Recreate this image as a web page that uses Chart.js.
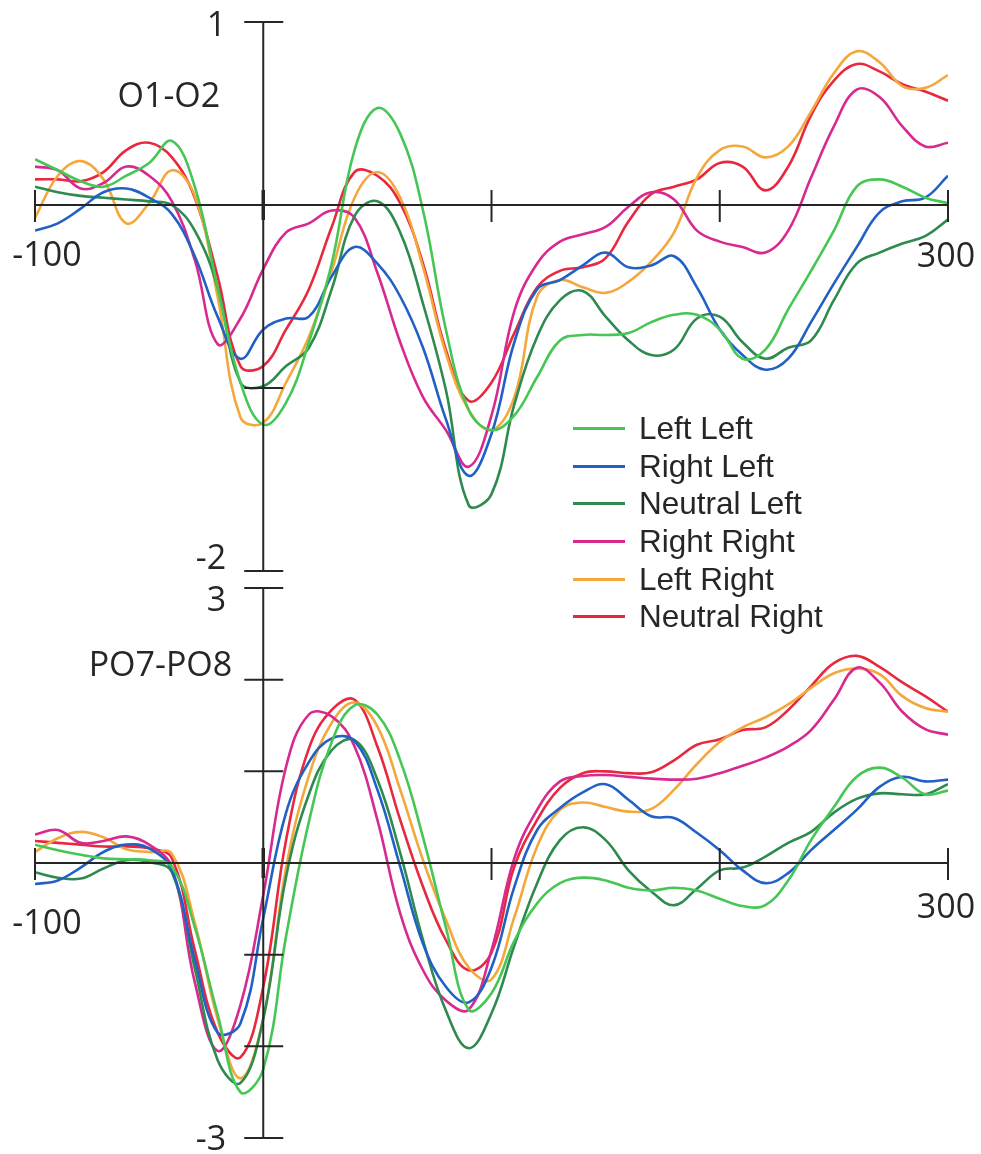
<!DOCTYPE html>
<html>
<head>
<meta charset="utf-8">
<title>O1-O2 / PO7-PO8</title>
<script src="https://cdn.jsdelivr.net/npm/chart.js@4.4.0/dist/chart.umd.min.js"></script>
<style>
  html, body { margin: 0; padding: 0; background: #fff; }
  #wrap { position: relative; width: 981px; height: 1154px; overflow: hidden; }
  #wrap canvas { position: absolute; left: 0; top: 0; }
  #legend {
    position: absolute; left: 573px; top: 410px;
    font-family: "Liberation Sans", Arial, sans-serif; font-size: 31.5px; color: #262626;
  }
  .row { height: 37.6px; display: flex; align-items: center; white-space: nowrap; }
  .swatch { width: 52px; height: 3px; margin-right: 14px; }
</style>
</head>
<body>
<div id="wrap">
  <canvas id="topChart" width="981" height="1154"></canvas>
  <canvas id="bottomChart" width="981" height="1154"></canvas>
  <div id="legend"></div>
</div>
<script>
// time in ms, every 10 ms
const times = [-100, -90, -80, -70, -60, -50, -40, -30, -20, -10,
  0, 10, 20, 30, 40, 50, 60, 70, 80, 90,
  100, 110, 120, 130, 140, 150, 160, 170, 180, 190,
  200, 210, 220, 230, 240, 250, 260, 270, 280, 290, 300];

const seriesNames = ['Left Left', 'Right Left', 'Neutral Left', 'Right Right', 'Left Right', 'Neutral Right'];
const seriesColors = ['#45c655', '#2160c4', '#2f8a4f', '#d8298f', '#f4a83c', '#e8283f'];

// O1-O2
const o1LeftLeft = [0.25, 0.19, 0.13, 0.10, 0.16, 0.23, 0.35, 0.10, -0.45, -0.97,
  -1.20, -1.08, -0.75, -0.32, 0.30, 0.53, 0.39, -0.03, -0.68, -1.12,
  -1.23, -1.15, -0.94, -0.74, -0.71, -0.71, -0.70, -0.64, -0.60, -0.60,
  -0.68, -0.84, -0.79, -0.57, -0.36, -0.14, 0.10, 0.14, 0.10, 0.04, 0.01];
const o1RightLeft = [-0.14, -0.10, -0.02, 0.07, 0.09, 0.04, -0.05, -0.28, -0.61, -0.84,
  -0.68, -0.62, -0.61, -0.39, -0.23, -0.32, -0.50, -0.78, -1.17, -1.48,
  -1.25, -0.75, -0.46, -0.41, -0.33, -0.26, -0.34, -0.33, -0.28, -0.45,
  -0.68, -0.82, -0.90, -0.84, -0.64, -0.43, -0.23, -0.04, 0.02, 0.04, 0.16];
const o1NeutralLeft = [0.10, 0.07, 0.05, 0.04, 0.03, 0.02, 0.00, -0.14, -0.45, -0.97,
  -0.99, -0.88, -0.78, -0.46, -0.06, 0.02, -0.15, -0.54, -1.01, -1.64,
  -1.58, -1.09, -0.72, -0.52, -0.47, -0.61, -0.74, -0.82, -0.79, -0.62,
  -0.61, -0.75, -0.84, -0.78, -0.74, -0.52, -0.32, -0.26, -0.21, -0.17, -0.08];
const o1RightRight = [0.21, 0.19, 0.09, 0.12, 0.21, 0.16, 0.02, -0.30, -0.76, -0.62,
  -0.35, -0.15, -0.10, -0.03, -0.07, -0.37, -0.75, -1.05, -1.23, -1.43,
  -1.15, -0.58, -0.32, -0.20, -0.16, -0.12, -0.01, 0.07, 0.03, -0.14,
  -0.20, -0.23, -0.26, -0.14, 0.15, 0.43, 0.63, 0.59, 0.43, 0.32, 0.34];
const o1LeftRight = [-0.07, 0.16, 0.24, 0.14, -0.10, 0.01, 0.19, 0.05, -0.50, -1.16,
  -1.19, -0.97, -0.72, -0.36, 0.04, 0.18, 0.04, -0.34, -0.81, -1.12,
  -1.23, -1.05, -0.50, -0.41, -0.45, -0.48, -0.42, -0.31, -0.15, 0.15,
  0.30, 0.32, 0.26, 0.32, 0.51, 0.72, 0.84, 0.78, 0.65, 0.64, 0.71];
const o1NeutralRight = [0.14, 0.14, 0.13, 0.18, 0.30, 0.34, 0.26, 0.04, -0.39, -0.88,
  -0.88, -0.68, -0.46, -0.12, 0.18, 0.16, 0.01, -0.32, -0.79, -1.07,
  -0.97, -0.70, -0.45, -0.36, -0.34, -0.29, -0.09, 0.06, 0.10, 0.14,
  0.23, 0.21, 0.08, 0.21, 0.49, 0.68, 0.77, 0.73, 0.66, 0.62, 0.57];

// PO7-PO8
const po7LeftLeft = [0.20, 0.14, 0.09, 0.05, 0.04, 0.03, -0.04, -0.70, -1.65, -2.50,
  -2.25, -0.80, 0.45, 1.32, 1.72, 1.62, 1.12, 0.28, -0.70, -1.60,
  -1.42, -0.85, -0.44, -0.22, -0.16, -0.19, -0.27, -0.30, -0.27, -0.30,
  -0.39, -0.47, -0.46, -0.19, 0.25, 0.61, 0.94, 1.04, 0.93, 0.75, 0.79];
const po7RightLeft = [-0.23, -0.19, -0.05, 0.12, 0.20, 0.16, -0.08, -1.05, -1.85, -1.75,
  -0.60, 0.55, 1.10, 1.36, 1.33, 0.80, -0.04, -0.88, -1.35, -1.52,
  -1.14, -0.26, 0.36, 0.60, 0.77, 0.86, 0.69, 0.51, 0.49, 0.33,
  0.14, -0.08, -0.22, -0.11, 0.14, 0.36, 0.58, 0.83, 0.94, 0.89, 0.91];
const po7NeutralLeft = [-0.10, -0.16, -0.17, -0.06, 0.03, 0.01, -0.10, -1.15, -2.15, -2.40,
  -1.70, -0.15, 0.75, 1.23, 1.34, 0.91, 0.11, -0.84, -1.61, -2.02,
  -1.64, -0.90, -0.22, 0.25, 0.39, 0.25, -0.08, -0.31, -0.46, -0.28,
  -0.08, -0.05, 0.07, 0.22, 0.34, 0.55, 0.70, 0.76, 0.75, 0.75, 0.86];
const po7RightRight = [0.31, 0.36, 0.22, 0.24, 0.29, 0.20, -0.05, -1.30, -2.05, -1.55,
  -0.35, 1.05, 1.62, 1.60, 1.27, 0.47, -0.55, -1.17, -1.50, -1.60,
  -0.95, 0.05, 0.58, 0.89, 0.95, 0.96, 0.94, 0.92, 0.91, 0.92,
  0.98, 1.06, 1.15, 1.27, 1.45, 1.78, 2.13, 1.97, 1.65, 1.46, 1.40];
const po7LeftRight = [0.12, 0.27, 0.34, 0.28, 0.15, 0.12, 0.10, -0.65, -1.70, -2.35,
  -1.70, -0.05, 0.95, 1.53, 1.75, 1.49, 0.80, 0.03, -0.62, -1.14,
  -1.27, -0.59, 0.18, 0.58, 0.66, 0.61, 0.56, 0.59, 0.80, 1.08,
  1.32, 1.48, 1.59, 1.73, 1.91, 2.07, 2.12, 2.06, 1.82, 1.69, 1.65];
const po7NeutralRight = [0.24, 0.22, 0.20, 0.18, 0.18, 0.16, 0.05, -0.95, -1.85, -2.12,
  -1.35, 0.25, 1.25, 1.67, 1.78, 1.27, 0.47, -0.26, -0.84, -1.17,
  -0.98, -0.04, 0.47, 0.82, 0.98, 1.00, 0.98, 0.99, 1.12, 1.29,
  1.35, 1.45, 1.48, 1.67, 1.93, 2.18, 2.26, 2.14, 1.97, 1.82, 1.65];

// axis ticks and labels
const xTickValues = [-100, 0, 100, 200, 300];
const xLabelValues = [-100, 300];
const o1YTicks = [1, 0, -1, -2];
const o1YLabels = [1, -2];
const po7YTicks = [3, 2, 1, 0, -1, -2, -3];
const po7YLabels = [3, -3];

const INK = '#262626';

// draws the crossing axes through zero, with ticks through both sides
const crossAxes = {
  id: 'crossAxes',
  afterDatasetsDraw(chart, args, o) {
    const ctx = chart.ctx;
    const xs = chart.scales.x, ys = chart.scales.y;
    const x0 = xs.getPixelForValue(0);
    const y0 = ys.getPixelForValue(0);
    ctx.save();
    ctx.strokeStyle = INK;
    ctx.lineWidth = 2;
    ctx.beginPath();
    ctx.moveTo(xs.getPixelForValue(xs.min), y0);
    ctx.lineTo(xs.getPixelForValue(xs.max), y0);
    ctx.moveTo(x0, ys.getPixelForValue(ys.max));
    ctx.lineTo(x0, ys.getPixelForValue(ys.min));
    xTickValues.forEach(t => {
      const px = xs.getPixelForValue(t);
      ctx.moveTo(px, y0 - 15);
      ctx.lineTo(px, y0 + 17);
    });
    o.yTicks.forEach(v => {
      const py = ys.getPixelForValue(v);
      ctx.moveTo(x0 - 19, py);
      ctx.lineTo(x0 + 20, py);
    });
    ctx.stroke();
    // heavier mark at the origin
    ctx.lineWidth = 3.5;
    ctx.beginPath();
    ctx.moveTo(x0, y0 - 15);
    ctx.lineTo(x0, y0 + 15);
    ctx.stroke();

    ctx.fillStyle = INK;
    ctx.font = '34px "Open Sans", sans-serif';
    ctx.textBaseline = 'middle';
    ctx.textAlign = 'right';
    o.yLabels.forEach((v, i) => {
      ctx.fillText(String(v), x0 - 37, ys.getPixelForValue(v) + o.yLabelDy[i]);
    });
    ctx.textAlign = 'center';
    xLabelValues.forEach((v, i) => {
      ctx.fillText(String(v), xs.getPixelForValue(v) + o.xLabelDx[i], y0 + o.xLabelDy[i]);
    });
    ctx.textAlign = 'right';
    ctx.fillText(o.title, x0 + o.titleDx, ys.getPixelForValue(o.titleAt));
    ctx.restore();
  }
};

function makeChart(id, series, yMin, yMax, pad, axisOpts) {
  return new Chart(document.getElementById(id), {
    type: 'line',
    data: {
      datasets: seriesNames.map((name, i) => ({
        label: name,
        data: times.map((t, k) => ({ x: t, y: series[i][k] })),
        borderColor: seriesColors[i],
        borderWidth: 2.6,
        pointRadius: 0,
        tension: 0.4,
        fill: false
      }))
    },
    options: {
      responsive: false,
      animation: false,
      devicePixelRatio: 1,
      layout: { padding: pad },
      scales: {
        x: { type: 'linear', min: -100, max: 300, display: false },
        y: { type: 'linear', min: yMin, max: yMax, display: false }
      },
      plugins: {
        legend: { display: false },
        tooltip: { enabled: false },
        crossAxes: axisOpts
      }
    },
    plugins: [crossAxes]
  });
}

makeChart('topChart',
  [o1LeftLeft, o1RightLeft, o1NeutralLeft, o1RightRight, o1LeftRight, o1NeutralRight],
  -2, 1,
  { left: 35, right: 33, top: 22, bottom: 583 },
  { yTicks: o1YTicks, yLabels: o1YLabels, yLabelDy: [4, -12],
    xLabelDx: [12, -2], xLabelDy: [51, 52],
    title: 'O1-O2', titleDx: -43, titleAt: 0.59 });

makeChart('bottomChart',
  [po7LeftLeft, po7RightLeft, po7NeutralLeft, po7RightRight, po7LeftRight, po7NeutralRight],
  -3, 3,
  { left: 35, right: 33, top: 588, bottom: 16 },
  { yTicks: po7YTicks, yLabels: po7YLabels, yLabelDy: [13, 2],
    xLabelDx: [12, -2], xLabelDy: [61, 45],
    title: 'PO7-PO8', titleDx: -31, titleAt: 2.15 });

// legend
const legend = document.getElementById('legend');
seriesNames.forEach((name, i) => {
  const row = document.createElement('div');
  row.className = 'row';
  const sw = document.createElement('span');
  sw.className = 'swatch';
  sw.style.background = seriesColors[i];
  const label = document.createElement('span');
  label.textContent = name;
  row.appendChild(sw);
  row.appendChild(label);
  legend.appendChild(row);
});
</script>
</body>
</html>
